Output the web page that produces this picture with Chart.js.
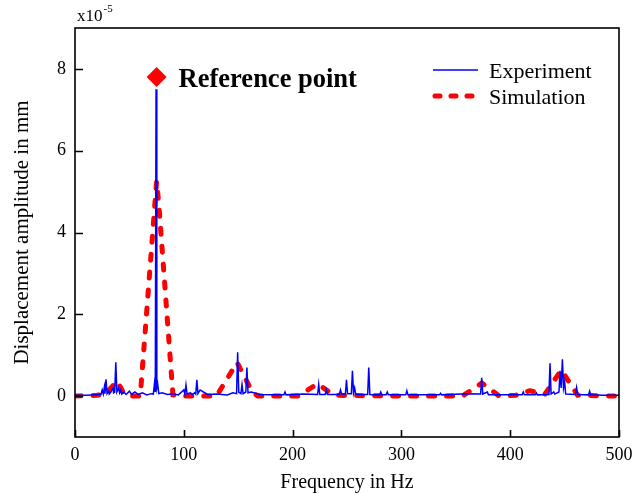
<!DOCTYPE html>
<html>
<head>
<meta charset="utf-8">
<script src="https://cdn.jsdelivr.net/npm/chart.js@4.4.0/dist/chart.umd.min.js"></script>
<style>
  html, body { margin: 0; padding: 0; background: #fff; }
  #wrap { width: 643px; height: 495px; }
</style>
</head>
<body>
<div id="wrap"><canvas id="chart" width="643" height="495"></canvas></div>
<script>
// ===== Displacement spectrum: experiment vs simulation =====

// Experiment (blue) - frequency in Hz, amplitude in 1e-5 mm
const expFreq = [
  0, 10, 20, 24, 25, 26, 27, 27.5, 28.5, 29.5,
  31, 31.5, 33, 35, 35.5, 36.5, 37.5, 38.5, 40, 41,
  42, 43, 45, 47, 50, 52, 55, 58, 62, 66,
  70, 72, 73, 73.8, 74.5, 75.2, 76, 77, 80, 85,
  90, 95, 100, 101, 102, 103, 106, 108, 110, 111,
  112, 113, 115, 118, 122, 130, 140, 145, 148.5, 149.5,
  150.5, 152.5, 153.5, 154.5, 157, 158, 159, 162, 170, 180,
  192, 193, 194, 210, 223, 224, 225, 230, 231, 232,
  243, 244, 245, 248.5, 249.5, 250.5, 254, 255, 256, 257,
  258, 269, 270, 271, 280, 281, 282, 286, 287, 288,
  304, 305, 306, 320, 335, 336, 337, 360, 372.8, 373.8,
  374.8, 379, 380, 395, 411, 412, 413, 423, 424, 425,
  435.6, 436.6, 437.6, 440, 441, 444.8, 445.8, 446.8, 448, 449,
  450, 451, 460, 461, 462, 472, 473, 474, 485, 500
];
const expAmp = [
  0.02, 0.02, 0.03, 0.05, 0.15, 0.05, 0.22, 0.06, 0.41, 0.06,
  0.12, 0.05, 0.1, 0.2, 0.08, 0.1, 0.83, 0.1, 0.2, 0.08,
  0.15, 0.05, 0.1, 0.04, 0.12, 0.04, 0.1, 0.04, 0.08, 0.03,
  0.06, 0.05, 0.3, 0.1, 7.5, 0.2, 0.3, 0.06, 0.08, 0.04,
  0.06, 0.03, 0.15, 0.05, 0.27, 0.05, 0.08, 0.04, 0.08, 0.05,
  0.4, 0.06, 0.15, 0.1, 0.04, 0.05, 0.03, 0.08, 0.06, 1.07,
  0.1, 0.06, 0.28, 0.06, 0.1, 0.7, 0.08, 0.1, 0.04, 0.03,
  0.03, 0.1, 0.03, 0.05, 0.04, 0.29, 0.04, 0.04, 0.15, 0.04,
  0.04, 0.15, 0.05, 0.05, 0.4, 0.06, 0.06, 0.62, 0.08, 0.2,
  0.04, 0.04, 0.7, 0.04, 0.03, 0.1, 0.03, 0.03, 0.1, 0.03,
  0.03, 0.13, 0.03, 0.03, 0.03, 0.07, 0.03, 0.06, 0.05, 0.45,
  0.05, 0.1, 0.03, 0.03, 0.03, 0.1, 0.03, 0.03, 0.08, 0.03,
  0.04, 0.8, 0.05, 0.1, 0.05, 0.1, 0.62, 0.2, 0.9, 0.2,
  0.35, 0.05, 0.04, 0.21, 0.04, 0.03, 0.12, 0.03, 0.02, 0.02
];

// Simulation (red dashed)
const simFreq = [0, 20, 28, 33, 39, 44, 48, 60, 75, 77, 90, 100, 130, 149, 163, 168,
  205, 223, 238, 300, 356, 374, 390, 405, 418, 432, 447, 462, 500];
const simAmp = [0, 0.02, 0.05, 0.2, 0.37, 0.1, 0, 0, 5.25, 4.7, 0.03, 0, 0, 0.82, 0.1, 0,
  0, 0.3, 0.02, 0, 0, 0.32, 0, 0.02, 0.13, 0.05, 0.64, 0.02, 0];

// Reference point marker
const refFreq = [75];
const refAmp = [7.8];
const refLabel = 'Reference point';

const xTicks = [0, 100, 200, 300, 400, 500];
const yTicks = [0, 2, 4, 6, 8];
const seriesLabels = ['Experiment', 'Simulation'];

const serif = "'Liberation Serif', 'Times New Roman', serif";
const blue = '#0000ff';
const red = '#ff0000';

// frame, inward ticks, exponent, legend and annotation text
const decorPlugin = {
  id: 'decor',
  afterDatasetsDraw(chart) {
    const { ctx, chartArea: a, scales } = chart;
    ctx.save();

    // box frame
    ctx.strokeStyle = '#000';
    ctx.lineWidth = 1.6;
    ctx.strokeRect(a.left, a.top, a.right - a.left, a.bottom - a.top);

    // inward tick marks
    ctx.beginPath();
    xTicks.forEach(v => {
      const px = Math.round(scales.x.getPixelForValue(v)) + 0.5;
      ctx.moveTo(px, a.bottom);
      ctx.lineTo(px, a.bottom - 7);
    });
    yTicks.forEach(v => {
      const py = Math.round(scales.y.getPixelForValue(v)) + 0.5;
      ctx.moveTo(a.left, py);
      ctx.lineTo(a.left + 8, py);
    });
    ctx.stroke();

    // x10^-5 exponent
    ctx.fillStyle = '#000';
    ctx.textBaseline = 'alphabetic';
    ctx.textAlign = 'left';
    ctx.font = '17px ' + serif;
    ctx.fillText('x10', a.left + 2, a.top - 7);
    const w = ctx.measureText('x10').width;
    ctx.font = '11px ' + serif;
    ctx.fillText('-5', a.left + 2 + w + 1, a.top - 16);

    // annotation next to the reference marker
    const pt = chart.getDatasetMeta(2).data[0];
    ctx.font = 'bold 26.5px ' + serif;
    ctx.fillText(refLabel, pt.x + 22, pt.y + 10);

    // legend
    const lx = a.right - 186;
    const ly = a.top + 42;
    ctx.lineWidth = 1.4;
    ctx.strokeStyle = blue;
    ctx.beginPath();
    ctx.moveTo(lx, ly);
    ctx.lineTo(lx + 45, ly);
    ctx.stroke();

    ctx.lineWidth = 5;
    ctx.strokeStyle = red;
    ctx.lineCap = 'round';
    ctx.setLineDash([5, 11]);
    ctx.beginPath();
    ctx.moveTo(lx + 2, ly + 26);
    ctx.lineTo(lx + 45, ly + 26);
    ctx.stroke();
    ctx.setLineDash([]);

    ctx.font = '22px ' + serif;
    ctx.fillStyle = '#000';
    ctx.fillText(seriesLabels[0], lx + 56, ly + 8);
    ctx.fillText(seriesLabels[1], lx + 56, ly + 34);

    ctx.restore();
  }
};

const ctx = document.getElementById('chart').getContext('2d');
new Chart(ctx, {
  type: 'line',
  data: {
    datasets: [
      {
        label: seriesLabels[0],
        data: expFreq.map((f, i) => ({ x: f, y: expAmp[i] })),
        borderColor: blue,
        borderWidth: 1.5,
        pointRadius: 0,
        tension: 0,
        fill: false
      },
      {
        label: seriesLabels[1],
        data: simFreq.map((f, i) => ({ x: f, y: simAmp[i] })),
        borderColor: red,
        borderWidth: 5,
        borderDash: [6, 12],
        borderCapStyle: 'round',
        pointRadius: 0,
        tension: 0,
        fill: false
      },
      {
        label: refLabel,
        data: refFreq.map((f, i) => ({ x: f, y: refAmp[i] })),
        showLine: false,
        pointStyle: 'rectRot',
        pointRadius: 10,
        pointBackgroundColor: red,
        pointBorderColor: red,
        pointBorderWidth: 0
      }
    ]
  },
  options: {
    responsive: false,
    animation: false,
    devicePixelRatio: 1,
    layout: { padding: { top: 28, right: 24, left: 0, bottom: 0 } },
    plugins: {
      legend: { display: false },
      tooltip: { enabled: false }
    },
    scales: {
      x: {
        type: 'linear',
        min: 0,
        max: 500,
        afterBuildTicks: s => { s.ticks = xTicks.map(v => ({ value: v })); },
        afterFit: s => { s.height = 58; },
        grid: { display: false, drawTicks: false },
        border: { display: false },
        ticks: {
          color: '#000',
          font: { family: serif, size: 18 },
          padding: 7,
          maxRotation: 0
        },
        title: {
          display: true,
          text: 'Frequency in Hz',
          color: '#000',
          font: { family: serif, size: 20 },
          padding: { top: 0, bottom: 0 }
        }
      },
      y: {
        type: 'linear',
        min: -1,
        max: 9,
        afterBuildTicks: s => { s.ticks = yTicks.map(v => ({ value: v })); },
        afterFit: s => { s.width = 75; },
        grid: { display: false, drawTicks: false },
        border: { display: false },
        ticks: {
          color: '#000',
          font: { family: serif, size: 18 },
          padding: 9
        },
        title: {
          display: true,
          text: 'Displacement amplitude in mm',
          color: '#000',
          font: { family: serif, size: 21 },
          padding: { top: 10, bottom: 0 }
        }
      }
    }
  },
  plugins: [decorPlugin]
});
</script>
</body>
</html>
